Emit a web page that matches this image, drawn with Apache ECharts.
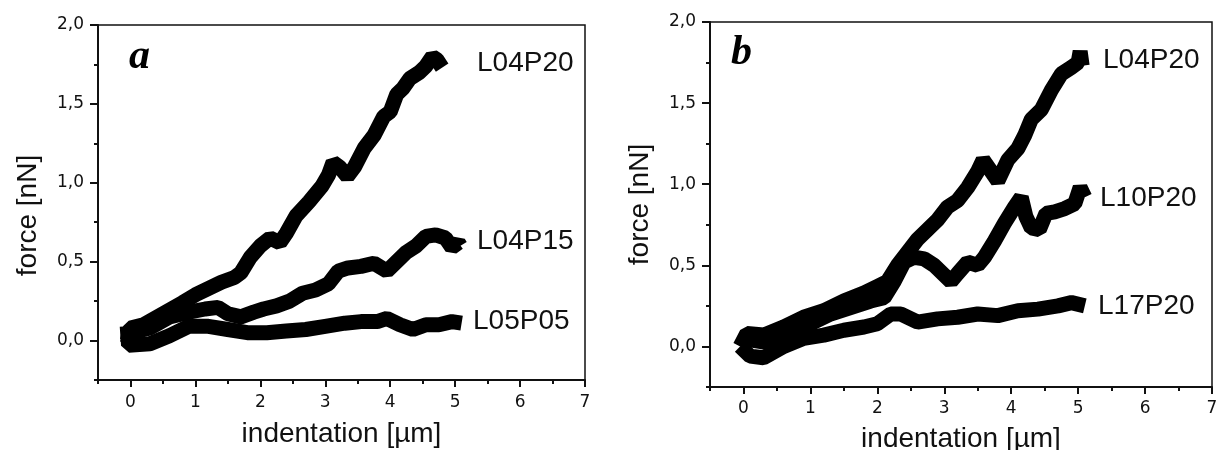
<!DOCTYPE html>
<html>
<head>
<meta charset="utf-8">
<script src="https://cdn.jsdelivr.net/npm/echarts@6/dist/echarts.min.js"></script>
<style>
  html, body { margin: 0; padding: 0; background: #fff; }
  #main { width: 1218px; height: 450px; }
</style>
</head>
<body>
<div id="main"></div>
<script>
// panel a
var aL04P20x = [-0.05, 0.0, 0.2, 0.5, 0.8, 1.0, 1.2, 1.4, 1.6, 1.7, 1.85, 2.0, 2.15, 2.3, 2.4, 2.55, 2.75, 2.95, 3.05, 3.12, 3.22, 3.34, 3.45, 3.6, 3.75, 3.9, 4.0, 4.1, 4.2, 4.3, 4.45, 4.55, 4.65, 4.72, 4.8];
var aL04P20y = [0.0, 0.08, 0.1, 0.17, 0.24, 0.29, 0.33, 0.37, 0.4, 0.43, 0.53, 0.6, 0.65, 0.62, 0.68, 0.79, 0.88, 0.98, 1.05, 1.13, 1.1, 1.04, 1.1, 1.22, 1.3, 1.42, 1.45, 1.56, 1.6, 1.66, 1.7, 1.74, 1.8, 1.78, 1.73];
var aL04P15x = [-0.05, 0.0, 0.3, 0.6, 0.9, 1.15, 1.35, 1.5, 1.7, 1.9, 2.05, 2.25, 2.45, 2.65, 2.85, 3.05, 3.2, 3.35, 3.55, 3.75, 3.95, 4.1, 4.25, 4.4, 4.55, 4.7, 4.85, 4.95, 5.05, 5.08];
var aL04P15y = [-0.02, 0.05, 0.08, 0.15, 0.18, 0.2, 0.21, 0.17, 0.15, 0.18, 0.2, 0.22, 0.25, 0.3, 0.32, 0.36, 0.44, 0.46, 0.47, 0.49, 0.44, 0.5, 0.56, 0.6, 0.66, 0.67, 0.65, 0.59, 0.62, 0.6];
var aL05P05x = [-0.05, -0.03, 0.0, 0.3, 0.6, 0.9, 1.2, 1.5, 1.8, 2.1, 2.4, 2.7, 3.0, 3.3, 3.55, 3.8, 3.95, 4.15, 4.35, 4.55, 4.75, 4.95, 5.1];
var aL05P05y = [0.09, -0.03, -0.04, -0.02, 0.03, 0.09, 0.09, 0.07, 0.05, 0.05, 0.06, 0.07, 0.09, 0.11, 0.12, 0.12, 0.14, 0.1, 0.07, 0.1, 0.1, 0.12, 0.11];

// panel b
var bL04P20x = [-0.05, 0.05, 0.3, 0.6, 0.9, 1.2, 1.5, 1.8, 2.0, 2.15, 2.3, 2.45, 2.6, 2.75, 2.9, 3.05, 3.2, 3.35, 3.5, 3.58, 3.7, 3.8, 3.95, 4.1, 4.2, 4.3, 4.45, 4.6, 4.75, 4.9, 5.0, 5.03, 5.06];
var bL04P20y = [0.0, 0.08, 0.07, 0.12, 0.18, 0.22, 0.28, 0.33, 0.37, 0.4, 0.5, 0.58, 0.66, 0.72, 0.78, 0.86, 0.9, 0.98, 1.08, 1.15, 1.08, 1.02, 1.15, 1.22, 1.3, 1.4, 1.46, 1.58, 1.68, 1.72, 1.75, 1.82, 1.73];
var bL10P20x = [-0.05, 0.1, 0.4, 0.7, 1.0, 1.3, 1.6, 1.9, 2.1, 2.25, 2.4, 2.55, 2.7, 2.85, 3.0, 3.1, 3.2, 3.35, 3.5, 3.6, 3.75, 3.9, 4.05, 4.15, 4.22, 4.3, 4.42, 4.52, 4.65, 4.8, 4.95, 5.03, 5.1];
var bL10P20y = [0.02, 0.04, 0.02, 0.1, 0.14, 0.2, 0.24, 0.28, 0.3, 0.4, 0.52, 0.55, 0.54, 0.5, 0.44, 0.4, 0.45, 0.52, 0.5, 0.55, 0.65, 0.76, 0.86, 0.92, 0.8, 0.73, 0.72, 0.82, 0.83, 0.85, 0.88, 0.98, 0.92];
var bL17P20x = [-0.05, 0.1, 0.3, 0.6, 0.9, 1.2, 1.5, 1.8, 2.0, 2.2, 2.35, 2.6, 2.9, 3.2, 3.5, 3.8, 4.1, 4.4, 4.7, 4.9, 5.1];
var bL17P20y = [0.0, -0.06, -0.07, 0.0, 0.05, 0.07, 0.1, 0.12, 0.14, 0.2, 0.2, 0.15, 0.17, 0.18, 0.2, 0.19, 0.22, 0.23, 0.25, 0.27, 0.25];

// ticks
var xMajor = [0, 1, 2, 3, 4, 5, 6, 7];
var xMinor = [-0.5, 0.5, 1.5, 2.5, 3.5, 4.5, 5.5, 6.5];
var yMajor = [0, 0.5, 1.0, 1.5, 2.0];
var yMinor = [-0.25, 0.25, 0.75, 1.25, 1.75];

function pairs(xs, ys) {
  var out = [];
  for (var i = 0; i < xs.length; i++) {
    out.push([xs[i], ys[i]]);
  }
  return out;
}

var tickFont = { fontFamily: 'DejaVu Sans', fontSize: 17, color: '#111' };
var nameFont = { fontFamily: 'Liberation Sans', fontSize: 28, color: '#111' };

function mainX(grid, gap, margin) {
  return {
    type: 'value', gridIndex: grid, min: -0.5, max: 7, position: 'bottom',
    name: 'indentation [\u00b5m]', nameLocation: 'middle', nameGap: gap, nameTextStyle: nameFont,
    axisLine: { show: true, onZero: false, lineStyle: { color: '#111', width: 2 } },
    axisTick: { show: true, customValues: xMajor, length: 7, lineStyle: { color: '#111', width: 2 } },
    axisLabel: Object.assign({ customValues: xMajor, margin: margin }, tickFont),
    splitLine: { show: false }
  };
}
// second axis only for the short half-step ticks
function minorX(grid) {
  return {
    type: 'value', gridIndex: grid, min: -0.5, max: 7, position: 'bottom',
    axisLine: { show: false, onZero: false },
    axisTick: { show: true, customValues: xMinor, length: 4, lineStyle: { color: '#111', width: 2 } },
    axisLabel: { show: false },
    splitLine: { show: false }
  };
}
function mainY(grid, pad) {
  return {
    type: 'value', gridIndex: grid, min: -0.25, max: 2.0, position: 'left',
    name: 'force [nN]', nameLocation: 'middle', nameGap: 56,
    nameTextStyle: Object.assign({ padding: pad }, nameFont),
    axisLine: { show: true, onZero: false, lineStyle: { color: '#111', width: 2 } },
    axisTick: { show: true, customValues: yMajor, length: 8, lineStyle: { color: '#111', width: 2 } },
    axisLabel: Object.assign({
      customValues: yMajor, margin: 14,
      formatter: function (v) { return v.toFixed(1).replace('.', ','); }
    }, tickFont),
    splitLine: { show: false }
  };
}
function minorY(grid) {
  return {
    type: 'value', gridIndex: grid, min: -0.25, max: 2.0, position: 'left',
    axisLine: { show: false, onZero: false },
    axisTick: { show: true, customValues: yMinor, length: 4, lineStyle: { color: '#111', width: 2 } },
    axisLabel: { show: false },
    splitLine: { show: false }
  };
}

function curve(axis, xs, ys) {
  return {
    type: 'line', xAxisIndex: axis, yAxisIndex: axis,
    data: pairs(xs, ys),
    showSymbol: false, symbol: 'none', silent: true,
    lineStyle: { color: '#000', width: 15, join: 'bevel' }
  };
}

function tag(text, x, y) {
  return {
    type: 'text', left: x, top: y - 16,
    style: { text: text, fill: '#111', font: '28px "Liberation Sans"' }
  };
}
function panelTag(text, x, y) {
  return {
    type: 'text', left: x, top: y,
    style: { text: text, fill: '#000', font: 'italic bold 42px "Liberation Serif"' }
  };
}

var chart = echarts.init(document.getElementById('main'), null, { renderer: 'canvas' });
var option = {
  animation: false,
  backgroundColor: '#fff',
  grid: [
    { left: 98, top: 25, width: 487, height: 355, outerBoundsMode: 'none', containLabel: false,
      show: true, borderColor: '#111', borderWidth: 1.5 },
    { left: 710, top: 22, width: 502, height: 365, outerBoundsMode: 'none', containLabel: false,
      show: true, borderColor: '#111', borderWidth: 1.5 }
  ],
  xAxis: [mainX(0, 40, 14), minorX(0), mainX(1, 38, 13), minorX(1)],
  yAxis: [mainY(0, [0, 26, 0, 0]), minorY(0), mainY(1, [0, 0, 0, 0]), minorY(1)],
  series: [
    curve(0, aL04P20x, aL04P20y),
    curve(0, aL04P15x, aL04P15y),
    curve(0, aL05P05x, aL05P05y),
    curve(2, bL04P20x, bL04P20y),
    curve(2, bL10P20x, bL10P20y),
    curve(2, bL17P20x, bL17P20y)
  ],
  graphic: [
    panelTag('a', 129, 36),
    panelTag('b', 731, 32),
    tag('L04P20', 477, 65),
    tag('L04P15', 477, 243),
    tag('L05P05', 473, 323),
    tag('L04P20', 1103, 62),
    tag('L10P20', 1100, 200),
    tag('L17P20', 1098, 308)
  ]
};
chart.setOption(option);
</script>
</body>
</html>
